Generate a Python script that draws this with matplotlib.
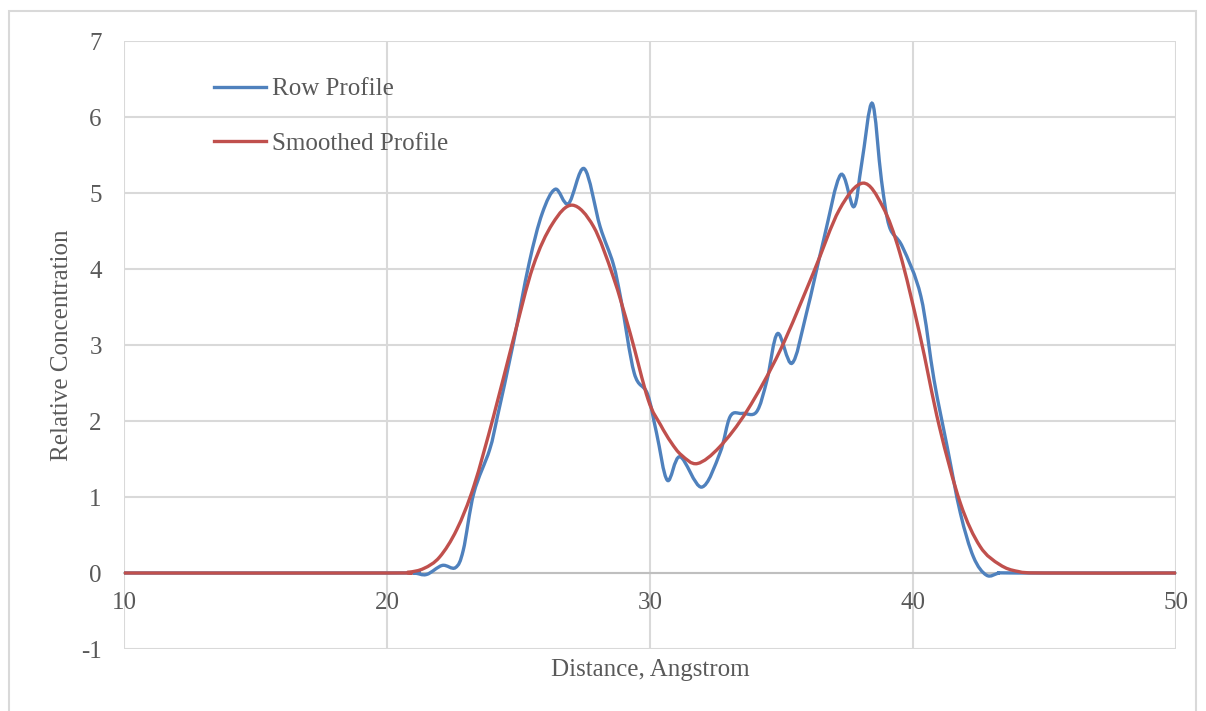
import numpy as np
import matplotlib
matplotlib.use("Agg")
import matplotlib.pyplot as plt
from matplotlib.path import Path
from matplotlib.patches import PathPatch, Rectangle
from matplotlib.lines import Line2D

# raw row profile
row_x = [10, 20, 21.0, 21.5, 22.1, 22.6, 22.9, 23.3, 23.9, 24.2,
         24.8, 25.4, 25.9, 26.4, 26.9, 27.5, 28.1, 28.6, 28.9, 29.4,
         29.9, 30.25, 30.66, 31.14, 31.96, 32.66, 33.05, 33.5, 34.05, 34.45,
         34.85, 35.4, 35.95, 36.6, 37.25, 37.75, 38.05, 38.45, 38.8, 39.1,
         39.6, 40.3, 40.8, 41.3, 41.8, 42.3, 42.8, 43.3, 44, 50]
row_y = [0, 0, 0, -0.02, 0.10, 0.07, 0.30, 1.05, 1.62, 2.06,
         3.02, 4.07, 4.73, 5.05, 4.86, 5.32, 4.56, 4.07, 3.59, 2.63,
         2.36, 1.84, 1.22, 1.53, 1.13, 1.58, 2.06, 2.10, 2.12, 2.54,
         3.15, 2.76, 3.42, 4.38, 5.24, 4.82, 5.39, 6.18, 5.17, 4.56,
         4.29, 3.64, 2.54, 1.66, 0.79, 0.21, -0.03, 0.0, 0, 0]

# smoothed profile
sm_x = [10, 20, 20.8, 21.4, 22.0, 22.65, 23.3, 24.05, 24.8, 25.55,
        26.3, 27.05, 27.85, 28.6, 29.25, 29.93, 30.4, 30.8, 31.2, 31.8,
        32.65, 33.7, 34.95, 36.2, 37.2, 38.1, 38.85, 39.5, 40.25, 41.0,
        41.8, 42.55, 43.3, 44.0, 45.0, 50]
sm_y = [0, 0, 0.01, 0.06, 0.21, 0.57, 1.14, 2.06, 3.07, 4.03,
        4.6, 4.84, 4.56, 3.9, 3.15, 2.28, 1.95, 1.72, 1.55, 1.44,
        1.66, 2.14, 2.93, 3.94, 4.78, 5.13, 4.82, 4.21, 3.15, 1.93,
        0.92, 0.35, 0.11, 0.02, 0.0, 0]

x_ticks = [10, 20, 30, 40, 50]
y_ticks = [-1, 0, 1, 2, 3, 4, 5, 6, 7]

BLUE = '#4f81bd'
RED = '#c0504d'
GRID = '#d9d9d9'
TXT = '#595959'
FS = 18

plt.rcParams['font.family'] = 'Liberation Serif'
plt.rcParams['axes.unicode_minus'] = False


def smooth_path(xs, ys):
    # catmull-rom through the points, written as cubic bezier segments
    p = np.column_stack([xs, ys]).astype(float)
    p = np.vstack([p[0], p, p[-1]])
    verts = [p[1]]
    codes = [Path.MOVETO]
    for i in range(1, len(p) - 2):
        c1 = p[i] + (p[i + 1] - p[i - 1]) / 6.0
        c2 = p[i + 1] - (p[i + 2] - p[i]) / 6.0
        verts += [c1, c2, p[i + 1]]
        codes += [Path.CURVE4] * 3
    return Path(verts, codes)


W, H = 1206, 711
fig = plt.figure(figsize=(W / 100, H / 100), dpi=100)
fig.patches.append(Rectangle((9 / W, -0.05), 1187 / W, 1.05 - 11 / H,
                             transform=fig.transFigure, fill=False,
                             edgecolor=GRID, lw=1.5))

ax = fig.add_axes([124 / W, 62 / H, 1052 / W, 608 / H])
ax.set_xlim(10, 50)
ax.set_ylim(-1, 7)
ax.set_xticks(x_ticks)
ax.set_yticks(y_ticks)
ax.grid(True, color=GRID, lw=1.5)
ax.set_axisbelow(True)
for s in ['top', 'right', 'left']:
    ax.spines[s].set_visible(False)
ax.spines['bottom'].set_position(('data', 0))
ax.spines['bottom'].set_color('#bfbfbf')
ax.spines['bottom'].set_linewidth(1.5)
ax.spines['bottom'].set_zorder(1.5)
ax.tick_params(axis='x', length=0, pad=14, labelsize=FS, labelcolor=TXT)
ax.tick_params(axis='y', length=0, pad=16, labelsize=FS, labelcolor=TXT)

ax.add_patch(PathPatch(smooth_path(row_x, row_y), fill=False,
                       edgecolor=BLUE, lw=2.4, zorder=3))
ax.add_patch(PathPatch(smooth_path(sm_x, sm_y), fill=False,
                       edgecolor=RED, lw=2.4, zorder=4))

ax.set_xlabel('Distance, Angstrom', fontsize=FS, color=TXT, labelpad=32)
ax.set_ylabel('Relative Concentration', fontsize=FS, color=TXT, labelpad=6)

handles = [Line2D([], [], color=BLUE, lw=2.4), Line2D([], [], color=RED, lw=2.4)]
ax.legend(handles, ['Row Profile', 'Smoothed Profile'], loc='upper left',
          bbox_to_anchor=(0.0736, 0.96), frameon=False, fontsize=FS,
          labelcolor=TXT, handlelength=2.1, handletextpad=0.24,
          labelspacing=1.28, borderpad=0)

fig.savefig('out.png', dpi=100)
